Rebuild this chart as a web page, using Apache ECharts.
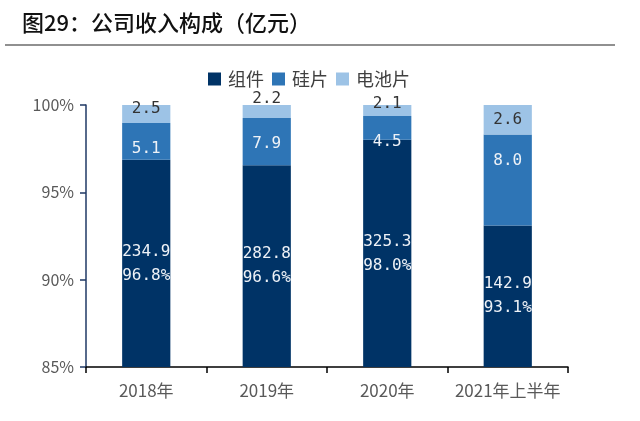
<!DOCTYPE html>
<html><head><meta charset="utf-8">
<script src="https://cdn.jsdelivr.net/npm/echarts@6/dist/echarts.min.js"></script>
<style>html,body{margin:0;padding:0;background:#fff}#c{width:640px;height:421px}</style>
</head><body><div id="c"></div>
<script>
const categories = ['2018年', '2019年', '2020年', '2021年上半年'];
const moduleRevenue = [234.9, 282.8, 325.3, 142.9];   // 组件
const waferRevenue = [5.1, 7.9, 4.5, 8.0];            // 硅片
const cellRevenue = [2.5, 2.2, 2.1, 2.6];             // 电池片
const moduleShareLabels = ['96.8%', '96.6%', '98.0%', '93.1%'];
const yTicks = ['85%', '90%', '95%', '100%'];

const totals = categories.map((_, i) => moduleRevenue[i] + waferRevenue[i] + cellRevenue[i]);
const pct = arr => arr.map((v, i) => v / totals[i] * 100);

// label layout offsets for the small top segment (style only)
const cellLabelOffsets = [[0, -5], [0, -13], [0, -7], [0, 0]];

const mono = '"DejaVu Sans Mono", "Liberation Mono", monospace';
const cjk = '"Noto Sans CJK SC", "Noto Sans", sans-serif';

const chart = echarts.init(document.getElementById('c'), null, {renderer: 'canvas'});
chart.setOption({
  animation: false,
  backgroundColor: '#fff',
  title: {
    text: '图29：公司收入构成（亿元）',
    left: 17, top: 7,
    textStyle: {fontFamily: cjk, fontSize: 22, fontWeight: 500, color: '#111'}
  },
  graphic: [{
    type: 'line', shape: {x1: 5, y1: 45, x2: 615, y2: 45},
    style: {stroke: '#222', lineWidth: 1.2}
  }],
  legend: {
    top: 65, left: 203,
    itemWidth: 13, itemHeight: 13, itemGap: 8,
    icon: 'rect',
    textStyle: {fontFamily: cjk, fontSize: 18, color: '#404040', padding: [0, 0, 0, 2]},
    data: ['组件', '硅片', '电池片']
  },
  grid: {left: 86, right: 72, top: 105, bottom: 54},
  xAxis: {
    type: 'category', data: categories,
    axisLine: {lineStyle: {color: '#000', width: 1.5}},
    axisTick: {show: true, length: 6, lineStyle: {color: '#000', width: 1.5}},
    axisLabel: {interval: 0, fontFamily: cjk, fontSize: 17, color: '#595959', margin: 15}
  },
  yAxis: {
    type: 'value', min: 85, max: 100, interval: 5,
    splitLine: {show: false},
    axisLine: {show: true, lineStyle: {color: '#1f3864', width: 1.5}},
    axisTick: {show: true, length: 6, lineStyle: {color: '#1f3864', width: 1.5}},
    axisLabel: {fontFamily: cjk, fontSize: 16, color: '#595959', margin: 12,
      formatter: v => yTicks[(v - 85) / 5]}
  },
  series: [
    {
      name: '组件', type: 'bar', stack: 'a', barWidth: '40%',
      itemStyle: {color: '#003366'},
      data: pct(moduleRevenue),
      label: {show: true, position: 'inside', fontFamily: mono, fontSize: 16, color: '#eef2f7', lineHeight: 24,
        formatter: p => moduleRevenue[p.dataIndex].toFixed(1) + '\n' + moduleShareLabels[p.dataIndex]}
    },
    {
      name: '硅片', type: 'bar', stack: 'a',
      itemStyle: {color: '#2e75b6'},
      data: pct(waferRevenue),
      label: {show: true, position: 'insideTop', distance: 18, fontFamily: mono, fontSize: 16, color: '#eef2f7',
        formatter: p => waferRevenue[p.dataIndex].toFixed(1)}
    },
    {
      name: '电池片', type: 'bar', stack: 'a',
      itemStyle: {color: '#9dc3e6'},
      data: pct(cellRevenue).map((v, i) => ({value: v, label: {offset: cellLabelOffsets[i]}})),
      label: {show: true, position: 'inside', fontFamily: mono, fontSize: 16, color: '#333',
        formatter: p => cellRevenue[p.dataIndex].toFixed(1)}
    }
  ]
});
</script></body></html>
